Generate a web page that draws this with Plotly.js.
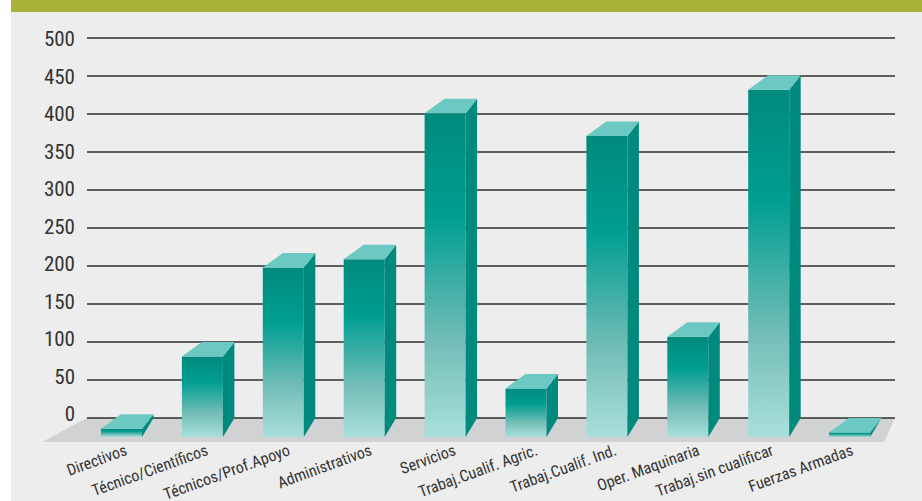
<!DOCTYPE html>
<html><head><meta charset="utf-8">
<script src="https://cdn.plot.ly/plotly-3.0.1.min.js"></script>
<style>html,body{margin:0;padding:0;background:#fff}</style></head>
<body><div id="c" style="width:922px;height:501px"></div>
<script>
const categories = ["Directivos","Técnico/Científicos","Técnicos/Prof.Apoyo","Administrativos","Servicios","Trabaj.Cualif. Agric.","Trabaj.Cualif. Ind.","Oper. Maquinaria","Trabaj.sin cualificar","Fuerzas Armadas"];
const values = [5,100,217,228,420,58,390,126,451,0];
const yTicks = [0,50,100,150,200,250,300,350,400,450,500];
const labelNudgePx = [4,4,5,6,9,10,8,10,3,2];
const titleText = "Ocupados por grupo principal de ocupación";

const W=922,H=501,mb=59,unit=80.9,cx0=121.5,pxPerVal=0.76,zeroPx=418;
const plotH=H-mb;
const xr=[-cx0/unit,(W-cx0)/unit], yr=[(zeroPx-plotH)/pxPerVal,zeroPx/pxPerVal];
const dx=11.5/unit, dy=14.5/pxPerVal, floorDrop=19/pxPerVal, hw=20.5/unit, floorY=-floorDrop;
const idx=categories.map((_,i)=>i);
const wallL=xr[0]+87/unit, wallR=xr[0]+895/unit, floorFrontY=(zeroPx-442)/pxPerVal;

const shapes=[
 {type:'rect',xref:'paper',yref:'paper',x0:0,x1:11/W,y0:-1,y1:2,fillcolor:'#fff',line:{width:0},layer:'below'},
 {type:'rect',xref:'paper',yref:'paper',x0:11/W,x1:1,y0:1-12/plotH,y1:1.01,fillcolor:'#a9b037',line:{width:0},layer:'below'},
 {type:'path',xref:'x',yref:'y',layer:'below',fillcolor:'#d1d2d4',line:{width:0},
  path:`M${wallL},0 L${wallR},0 L${xr[0]+884/unit},${floorFrontY} L${xr[0]+42/unit},${floorFrontY} Z`}
];
yTicks.forEach(t=>shapes.push({type:'line',xref:'x',yref:'y',layer:'below',x0:wallL,x1:wallR,y0:t,y1:t,line:{color:'#2e2e2e',width:1.5}}));

const grad=[[0,'#a9dfdb'],[0.3,'#72bdb6'],[0.68,'#009e92'],[1,'#008a7d']];
const inset=1.5/pxPerVal;
const traces=[{type:'bar',x:idx,y:values.map(v=>Math.max(v-dy-floorY-2*inset,0.5)),base:floorY+inset,width:2*hw-3/unit,marker:{color:'#009e92',line:{width:0}},hoverinfo:'skip'}];
values.forEach((v,i)=>{
  const t=v-dy, l=i-hw, r=i+hw;
  traces.push({x:[l,r,r,l,l],y:[floorY,floorY,t,t,floorY],mode:'lines',line:{width:0},fill:'toself',
    fillgradient:{type:'vertical',colorscale:grad},hoverinfo:'skip'});
  traces.push({x:[r,r+dx,r+dx,r,r],y:[floorY,0,v,t,floorY],mode:'lines',line:{width:0},fill:'toself',fillcolor:'#008a7d',hoverinfo:'skip'});
  traces.push({x:[l,r,r+dx,l+dx+0.105,l],y:[t,t,v,v,t],mode:'lines',line:{width:0},fill:'toself',fillcolor:'#6cc8c2',hoverinfo:'skip'});
});
const font='"Roboto Condensed","Liberation Sans",sans-serif';
// the reference's labels sit slightly off their gridlines: 0 is ~4 px above its line, 500 about on it
const labelPos=yTicks.map(t=>5.3+t*0.987);
const layout={width:W,height:H,margin:{l:0,r:0,t:0,b:mb,pad:0},paper_bgcolor:'#ededed',plot_bgcolor:'rgba(0,0,0,0)',showlegend:false,
 xaxis:{range:xr,showgrid:false,zeroline:false,showline:false,ticks:'',tickmode:'array',tickvals:idx.map((i)=>i+labelNudgePx[i]/unit),ticktext:categories,tickangle:-20,ticklabelstandoff:-4,tickfont:{family:font,size:16,color:'#333'},fixedrange:true,automargin:false},
 yaxis:{range:yr,anchor:'free',position:75/W,showgrid:false,zeroline:false,showline:false,ticks:'',tickmode:'array',tickvals:labelPos,ticktext:yTicks.map(String),tickfont:{family:font,size:21,color:'#333'},fixedrange:true,automargin:false},
 shapes,
 annotations:[{xref:'paper',yref:'paper',x:0.42,y:1,yanchor:'bottom',xanchor:'center',yshift:-3,showarrow:false,text:'<b>'+titleText+'</b>',font:{family:font,size:20,color:'#fff'}}]
};
Plotly.newPlot('c',traces,layout,{displayModeBar:false,staticPlot:true});
</script></body></html>
